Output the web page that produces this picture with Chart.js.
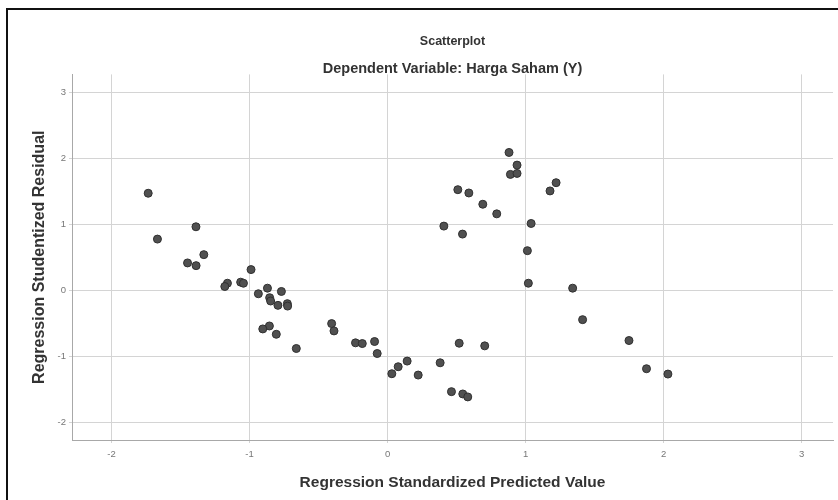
<!DOCTYPE html>
<html>
<head>
<meta charset="utf-8">
<script src="https://cdn.jsdelivr.net/npm/chart.js@4/dist/chart.umd.min.js"></script>
<style>
  html, body { margin: 0; padding: 0; background: #fff; }
  #wrap { position: relative; width: 838px; height: 500px; }
  #frame { position: absolute; left: 6px; top: 8px; right: -4px; bottom: -4px; border-left: 2px solid #111; border-top: 2px solid #111; }
  canvas { position: absolute; left: 0; top: 0; }
</style>
</head>
<body>
<div id="wrap">
  <div id="frame"></div>
  <canvas id="scatter" width="838" height="500"></canvas>
</div>
<script>
// values (standardized predicted, studentized residual)
var predicted = [
    -1.734, -1.667, -1.388, -1.331, -1.449, -1.387, -0.989, -1.160, -1.179, -1.064,
    -1.044, -0.870, -0.769, -0.936, -0.854, -0.847, -0.794, -0.726, -0.724, -0.856,
    -0.904, -0.806, -0.661, -0.405, -0.388, -0.232, -0.183, -0.094, -0.075, 0.031,
    0.077, 0.142, 0.222, 0.381, 0.463, 0.545, 0.581, 0.519, 0.704, 0.408,
    0.543, 0.509, 0.589, 0.690, 0.791, 0.880, 0.938, 0.890, 0.938, 1.040,
    1.013, 1.020, 1.177, 1.221, 1.341, 1.413, 1.749, 1.876, 2.031
]
var residual = [
    1.476, 0.780, 0.967, 0.544, 0.418, 0.377, 0.317, 0.110, 0.060, 0.126,
    0.110, 0.035, -0.015, -0.050, -0.110, -0.160, -0.226, -0.200, -0.237, -0.539,
    -0.584, -0.665, -0.881, -0.503, -0.614, -0.795, -0.806, -0.775, -0.957, -1.264,
    -1.158, -1.072, -1.284, -1.098, -1.536, -1.571, -1.616, -0.801, -0.841, 0.977,
    0.856, 1.530, 1.480, 1.309, 1.163, 2.095, 1.903, 1.762, 1.777, 1.017,
    0.604, 0.110, 1.511, 1.636, 0.035, -0.443, -0.760, -1.188, -1.269
]
var xTicks = [-2, -1, 0, 1, 2, 3]
var yTicks = [-2, -1, 0, 1, 2, 3]

var points = predicted.map(function(x, i) {
    return { x: x, y: residual[i] }
})

var font = 'Liberation Sans, Arial, sans-serif'

function keepTicks(list) {
    return function(scale) {
        scale.ticks = list.map(function(v) { return { value: v } })
    }
}

new Chart(document.getElementById('scatter'), {
    type: 'scatter',
    data: {
        datasets: [{
            label: 'Residual',
            data: points,
            pointRadius: 4,
            pointHoverRadius: 4,
            backgroundColor: '#505050',
            borderColor: '#303030',
            borderWidth: 1
        }]
    },
    options: {
        responsive: false,
        animation: false,
        layout: { padding: 0 },
        plugins: {
            legend: { display: false },
            tooltip: { enabled: false },
            title: {
                display: true,
                text: 'Scatterplot',
                fullSize: false,
                color: '#333',
                font: { family: font, size: 12.5, weight: 'bold' },
                padding: { top: 34, bottom: 3 }
            },
            subtitle: {
                display: true,
                text: 'Dependent Variable: Harga Saham (Y)',
                fullSize: false,
                color: '#333',
                font: { family: font, size: 14.5, weight: 'bold' },
                padding: { top: 8, bottom: -3 }
            }
        },
        scales: {
            x: {
                type: 'linear',
                min: -2.286,
                max: 3.227,
                afterBuildTicks: keepTicks(xTicks),
                afterFit: function(scale) { scale.height = 60 },
                grid: { color: '#d4d4d4', tickLength: 3 },
                border: { color: '#a8a8a8' },
                ticks: { color: '#777', font: { family: font, size: 9.5 }, padding: 6 },
                title: {
                    display: true,
                    text: 'Regression Standardized Predicted Value',
                    color: '#333',
                    font: { family: font, size: 15.5, weight: 'bold' },
                    padding: { top: 0, bottom: 8 }
                }
            },
            y: {
                type: 'linear',
                min: -2.27,
                max: 3.28,
                afterBuildTicks: keepTicks(yTicks),
                afterFit: function(scale) { scale.width = 72 },
                grid: { color: '#d4d4d4', tickLength: 3 },
                border: { color: '#a8a8a8' },
                ticks: { color: '#777', font: { family: font, size: 9.5 }, padding: 3 },
                title: {
                    display: true,
                    text: 'Regression Studentized Residual',
                    color: '#333',
                    font: { family: font, size: 16, weight: 'bold' },
                    padding: { top: 30, bottom: 0 }
                }
            }
        }
    }
})
</script>
</body>
</html>
